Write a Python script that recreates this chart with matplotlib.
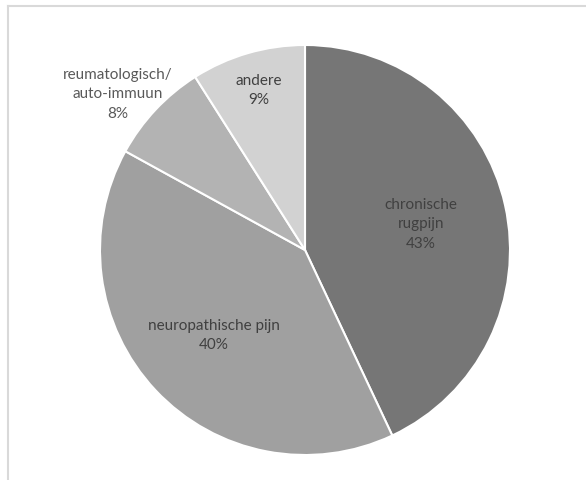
import numpy as np
import matplotlib.pyplot as plt
from matplotlib.lines import Line2D

# Verdeling van de pijnoorzaken (procenten)
labels = ['chronische\nrugpijn', 'neuropathische pijn', 'reumatologisch/\nauto-immuun', 'andere']
values = [43, 40, 8, 9]
colors = ['#767676', '#a0a0a0', '#b3b3b3', '#d2d2d2']
# afstand van het label tot het middelpunt (fractie van de straal) en hoekverschuiving
label_r = [0.58, 0.61, 1.19, 0.81]
label_da = [0, 0, 3.5, 0]
label_color = ['#404040', '#404040', '#595959', '#404040']

plt.rcParams['font.family'] = ['Lato', 'DejaVu Sans']

fig = plt.figure(figsize=(5.86, 4.8), dpi=100)
fig.patch.set_facecolor('white')

# lichtgrijze kaderlijn links en boven
fig.add_artist(Line2D([8/586, 8/586], [0, 474/480], color='#d9d9d9', lw=1.5, transform=fig.transFigure))
fig.add_artist(Line2D([8/586, 1], [474/480, 474/480], color='#d9d9d9', lw=1.5, transform=fig.transFigure))

ax = fig.add_axes([100/586, 25/480, 410/586, 410/480])
wedges, _ = ax.pie(values, colors=colors, startangle=90, counterclock=False,
                   radius=1, wedgeprops=dict(edgecolor='white', linewidth=1.5))

for w, lab, v, r, da, c in zip(wedges, labels, values, label_r, label_da, label_color):
    mid = np.deg2rad((w.theta1 + w.theta2) / 2 + da)
    x, y = r * np.cos(mid), r * np.sin(mid)
    ax.text(x, y, f'{lab}\n{v}%', ha='center', va='center', fontsize=11,
            color=c, linespacing=1.5)

ax.set_xlim(-1, 1)
ax.set_ylim(-1, 1)
ax.set_aspect('equal')
ax.axis('off')

fig.savefig('out.png', dpi=100, facecolor='white')
